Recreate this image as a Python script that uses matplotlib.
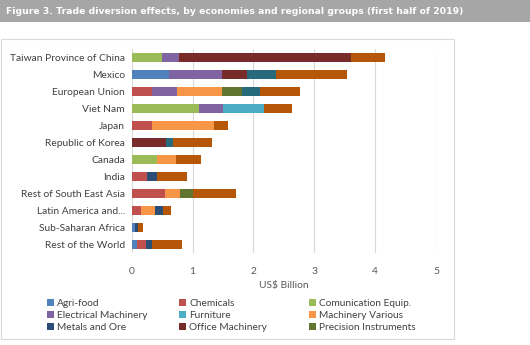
import matplotlib
matplotlib.use('Agg')
import matplotlib.pyplot as plt
from matplotlib.patches import Rectangle

plt.rcParams['font.family'] = ['Lato', 'DejaVu Sans']

# Economies, top to bottom
economies = ['Taiwan Province of China', 'Mexico', 'European Union', 'Viet Nam', 'Japan',
             'Republic of Korea', 'Canada', 'India', 'Rest of South East Asia',
             'Latin America and...', 'Sub-Saharan Africa', 'Rest of the World']

# US$ billion per sector (same order as economies)
agri_food = [0, 0.61, 0, 0, 0, 0, 0, 0, 0, 0, 0.05, 0.08]
chemicals = [0, 0, 0.33, 0, 0.34, 0, 0, 0.25, 0.55, 0.16, 0, 0.15]
comm_equip = [0.49, 0, 0, 1.11, 0, 0, 0.41, 0, 0, 0, 0, 0]
electrical = [0.29, 0.87, 0.41, 0.39, 0, 0, 0, 0, 0, 0, 0, 0]
furniture = [0, 0, 0, 0.67, 0, 0, 0, 0, 0, 0, 0, 0]
mach_various = [0, 0, 0.74, 0, 1.01, 0, 0.32, 0, 0.25, 0.22, 0, 0]
metals = [0, 0, 0, 0, 0, 0, 0, 0.17, 0, 0.14, 0.06, 0.11]
office = [2.82, 0.41, 0, 0, 0, 0.57, 0, 0, 0, 0, 0, 0]
precision = [0, 0, 0.33, 0, 0, 0, 0, 0, 0.20, 0, 0, 0]
other_a = [0, 0.48, 0.30, 0, 0, 0.11, 0, 0, 0, 0, 0, 0]
other_b = [0.57, 1.17, 0.66, 0.46, 0.23, 0.64, 0.41, 0.49, 0.71, 0.12, 0.08, 0.49]

series = [
    ('Agri-food', agri_food, '#4F81BD'),
    ('Chemicals', chemicals, '#C0504D'),
    ('Comunication Equip.', comm_equip, '#9BBB59'),
    ('Electrical Machinery', electrical, '#8064A2'),
    ('Furniture', furniture, '#4BACC6'),
    ('Machinery Various', mach_various, '#F79646'),
    ('Metals and Ore', metals, '#2C4D75'),
    ('Office Machinery', office, '#772C2A'),
    ('Precision Instruments', precision, '#5F7530'),
    ('_other_a', other_a, '#276A7C'),
    ('_other_b', other_b, '#B65708'),
]

fig = plt.figure(figsize=(5.3, 3.45), dpi=100)

# grey title banner and chart frame
fig.patches.append(Rectangle((0, 1 - 22 / 345), 1, 22 / 345, transform=fig.transFigure,
                             facecolor='#a6a6a6', edgecolor='none', zorder=0))
fig.patches.append(Rectangle((1 / 530, 1 - 339 / 345), 453 / 530, 300 / 345,
                             transform=fig.transFigure, facecolor='none',
                             edgecolor='#d9d9d9', linewidth=0.8, zorder=0))
title = fig.text(6 / 530, 1 - 11 / 345,
                 'Figure 3. Trade diversion effects, by economies and regional groups (first half of 2019)',
                 color='white', fontsize=8.6, fontweight='bold', va='center',
                 family=['DejaVu Sans'])
# shrink title to the width it has in the original (about 457 px)
fig.canvas.draw()
w = title.get_window_extent().width
title.set_fontsize(8.6 * 457 / w)

ax = fig.add_axes([131.7 / 530, 1 - 253 / 345, (436 - 131.7) / 530, 204 / 345])

ypos = list(range(len(economies)))
left = [0] * len(economies)
for name, vals, color in series:
    ax.barh(ypos, vals, left=left, height=0.5, color=color, label=name, zorder=2)
    left = [l + v for l, v in zip(left, vals)]

ax.set_xlim(0, 5)
ax.set_ylim(len(economies) - 0.5, -0.5)
ax.set_yticks(ypos)
ax.set_yticklabels(economies)
ax.set_xticks([0, 1, 2, 3, 4, 5])
ax.grid(axis='x', color='#d9d9d9', linewidth=0.8, zorder=0)
for s in ax.spines.values():
    s.set_visible(False)
ax.tick_params(length=0, labelsize=7.4, colors='#404040', pad=5)
ax.tick_params(axis='x', pad=10, colors='#595959')
ax.set_xlabel('US$ Billion', fontsize=7.4, color='#595959', labelpad=4)

# legend: three equal-width columns, filled row by row
handles, labels = ax.get_legend_handles_labels()
col_x = [43, 175, 305]
for c in range(3):
    idx = [c, c + 3, c + 6]
    leg = fig.legend([handles[i] for i in idx], [labels[i] for i in idx],
                     loc='upper left', bbox_to_anchor=(col_x[c] / 530, 1 - 295 / 345),
                     frameon=False, fontsize=7.3, handlelength=0.7, handleheight=0.7,
                     handletextpad=0.3, labelspacing=0.3, borderaxespad=0)
    for t in leg.get_texts():
        t.set_color('#404040')

fig.savefig('out.png', dpi=100)
